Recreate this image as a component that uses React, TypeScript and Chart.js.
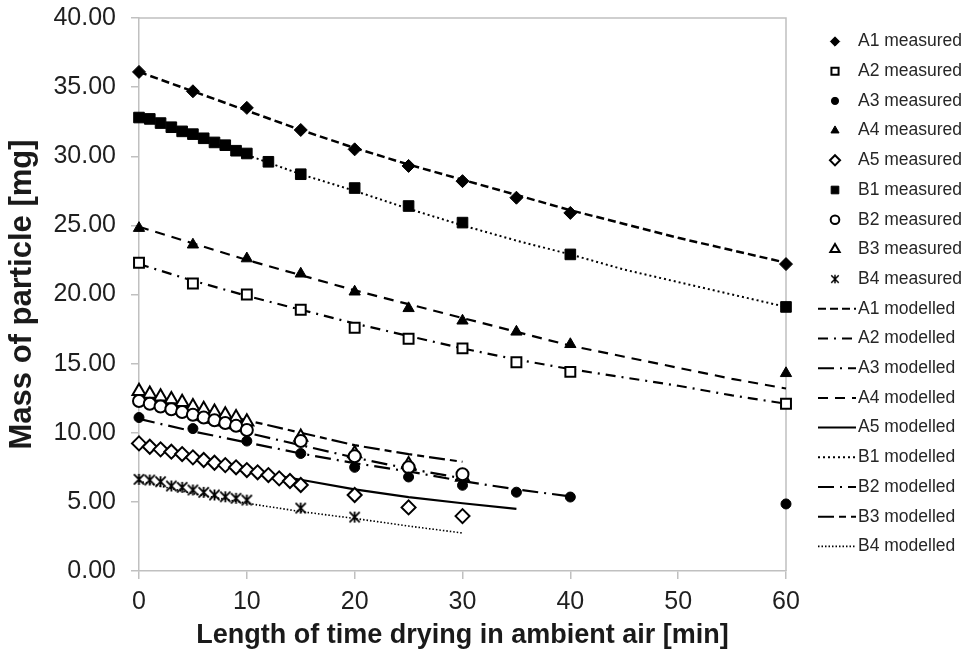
import React, { useEffect, useRef } from 'react';
import { Chart, registerables } from 'chart.js';
import { drawPoint } from 'chart.js/helpers';

Chart.register(...registerables);

const FONT = '"Liberation Sans", Arial, Helvetica, sans-serif';

// ---------------- Data ----------------
const xTickValues = [0, 10, 20, 30, 40, 50, 60];
const yTickValues = [0, 5, 10, 15, 20, 25, 30, 35, 40];

const timeA = [0, 5, 10, 15, 20, 25, 30, 35, 40, 60];
const a1Measured = [36.1, 34.7, 33.5, 31.9, 30.5, 29.3, 28.2, 27.0, 25.9, 22.2];
const a2Measured = [22.3, 20.8, 20.0, 18.9, 17.6, 16.8, 16.1, 15.1, 14.4, 12.1];
const a3Measured = [11.1, 10.3, 9.4, 8.5, 7.5, 6.8, 6.2, 5.7, 5.35, 4.85];
const a4Measured = [24.8, 23.6, 22.6, 21.5, 20.2, 19.0, 18.1, 17.3, 16.4, 14.3];

const timeA5 = [0, 1, 2, 3, 4, 5, 6, 7, 8, 9, 10, 11, 12, 13, 14, 15, 20, 25, 30];
const a5Measured = [9.23, 8.99, 8.8, 8.63, 8.46, 8.22, 8.03, 7.83, 7.66, 7.5, 7.3, 7.14, 6.94, 6.7, 6.51, 6.22, 5.5, 4.6, 3.97];

const timeB1 = [0, 1, 2, 3, 4, 5, 6, 7, 8, 9, 10, 12, 15, 20, 25, 30, 40, 60];
const b1Measured = [32.8, 32.7, 32.4, 32.1, 31.8, 31.6, 31.3, 31.0, 30.8, 30.4, 30.2, 29.6, 28.7, 27.7, 26.4, 25.2, 22.9, 19.1];

const timeB23 = [0, 1, 2, 3, 4, 5, 6, 7, 8, 9, 10, 15, 20, 25, 30];
const b2Measured = [12.3, 12.1, 11.9, 11.7, 11.5, 11.3, 11.1, 10.9, 10.7, 10.5, 10.2, 9.4, 8.3, 7.5, 7.0];
const b3Measured = [13.0, 12.8, 12.6, 12.4, 12.2, 11.9, 11.7, 11.5, 11.3, 11.1, 10.8, 9.7, 8.5, 7.7, 6.8];

const timeB4 = [0, 1, 2, 3, 4, 5, 6, 7, 8, 9, 10, 15, 20];
const b4Measured = [6.63, 6.58, 6.46, 6.15, 6.05, 5.86, 5.69, 5.5, 5.37, 5.26, 5.13, 4.55, 3.9];

const timeModel60 = [0, 5, 10, 15, 20, 25, 30, 35, 40, 45, 50, 55, 60];
const timeModel40 = [0, 5, 10, 15, 20, 25, 30, 35, 40];
const timeModel35 = [0, 5, 10, 15, 20, 25, 30, 35];
const timeModel30 = [0, 5, 10, 15, 20, 25, 30];

const a1Modelled = [36.1, 34.7, 33.3, 31.9, 30.6, 29.4, 28.3, 27.2, 26.1, 25.1, 24.1, 23.2, 22.3];
const a2Modelled = [22.2, 21.0, 19.9, 18.9, 17.9, 17.0, 16.1, 15.3, 14.6, 14.0, 13.4, 12.7, 12.1];
const a3Modelled = [11.0, 10.1, 9.3, 8.5, 7.8, 7.2, 6.5, 5.9, 5.4];
const a4Modelled = [24.9, 23.7, 22.5, 21.4, 20.3, 19.3, 18.3, 17.3, 16.3, 15.5, 14.7, 13.9, 13.2];
const a5Modelled = [9.2, 8.2, 7.3, 6.6, 5.9, 5.35, 4.9, 4.5];
const b1Modelled = [32.9, 31.5, 30.1, 28.7, 27.5, 26.2, 25.0, 23.9, 22.9, 21.8, 20.9, 20.0, 19.1];
const b2Modelled = [12.2, 11.0, 10.0, 9.1, 8.2, 7.4, 6.7];
const b3Modelled = [12.8, 11.8, 10.9, 10.0, 9.1, 8.45, 7.9];
const b4Modelled = [6.5, 5.6, 4.9, 4.3, 3.8, 3.25, 2.75];

// ---------------- Helpers ----------------
const pts = (xs: number[], ys: number[]) => xs.map((x, i) => ({ x, y: ys[i] }));

function makeStarMarker(size: number, lw: number): HTMLCanvasElement {
  const c = document.createElement('canvas');
  c.width = size;
  c.height = size;
  const g = c.getContext('2d')!;
  g.strokeStyle = '#000';
  g.lineWidth = lw;
  const m = lw / 2 + 0.5;
  g.beginPath();
  g.moveTo(m, m);
  g.lineTo(size - m, size - m);
  g.moveTo(size - m, m);
  g.lineTo(m, size - m);
  g.moveTo(size / 2, m - 0.5);
  g.lineTo(size / 2, size - m + 0.5);
  g.stroke();
  return c;
}

export default function App() {
  const canvasRef = useRef<HTMLCanvasElement | null>(null);

  useEffect(() => {
    const canvas = canvasRef.current;
    if (!canvas) return;

    const star = makeStarMarker(13, 1.8);
    const starSmall = makeStarMarker(10, 1.5);

    const measuredStyles = [
      { label: 'A1 measured', data: pts(timeA, a1Measured), style: 'rectRot', r: 6.5, fill: '#000', bw: 1 },
      { label: 'A2 measured', data: pts(timeA, a2Measured), style: 'rect', r: 7, fill: '#fff', bw: 2 },
      { label: 'A3 measured', data: pts(timeA, a3Measured), style: 'circle', r: 5, fill: '#000', bw: 1 },
      { label: 'A4 measured', data: pts(timeA, a4Measured), style: 'triangle', r: 6.5, fill: '#000', bw: 1 },
      { label: 'A5 measured', data: pts(timeA5, a5Measured), style: 'rectRot', r: 7, fill: '#fff', bw: 2 },
      { label: 'B1 measured', data: pts(timeB1, b1Measured), style: 'rect', r: 7.5, fill: '#000', bw: 1 },
      { label: 'B2 measured', data: pts(timeB23, b2Measured), style: 'circle', r: 6, fill: '#fff', bw: 2 },
      { label: 'B3 measured', data: pts(timeB23, b3Measured), style: 'triangle', r: 7.5, fill: '#fff', bw: 2 },
      { label: 'B4 measured', data: pts(timeB4, b4Measured), style: star as any, r: 6.5, fill: '#000', bw: 1 },
    ];

    const modelledStyles = [
      { label: 'A1 modelled', data: pts(timeModel60, a1Modelled), dash: [8, 4], w: 2.5 },
      { label: 'A2 modelled', data: pts(timeModel60, a2Modelled), dash: [10, 6, 2, 6], w: 2.2 },
      { label: 'A3 modelled', data: pts(timeModel40, a3Modelled), dash: [16, 6, 2, 6], w: 2.2 },
      { label: 'A4 modelled', data: pts(timeModel60, a4Modelled), dash: [10, 7], w: 2.2 },
      { label: 'A5 modelled', data: pts(timeModel35, a5Modelled), dash: [], w: 2.2 },
      { label: 'B1 modelled', data: pts(timeModel60, b1Modelled), dash: [2, 3], w: 2 },
      { label: 'B2 modelled', data: pts(timeModel30, b2Modelled), dash: [16, 6, 2, 6], w: 2.2 },
      { label: 'B3 modelled', data: pts(timeModel30, b3Modelled), dash: [16, 5, 7, 5], w: 2.2 },
      { label: 'B4 modelled', data: pts(timeModel30, b4Modelled), dash: [1.5, 2], w: 1.6 },
    ];

    const datasets: any[] = [
      ...measuredStyles.map((m) => ({
        label: m.label,
        data: m.data,
        showLine: false,
        pointStyle: m.style,
        pointRadius: m.r,
        pointBackgroundColor: m.fill,
        pointBorderColor: '#000',
        pointBorderWidth: m.bw,
        clip: false,
      })),
      ...modelledStyles.map((m) => ({
        label: m.label,
        data: m.data,
        showLine: true,
        pointRadius: 0,
        borderColor: '#000',
        borderWidth: m.w,
        borderDash: m.dash,
        fill: false,
        clip: false,
      })),
    ];

    const frameAndLegend = {
      id: 'frameAndLegend',
      beforeDatasetsDraw(chart: any) {
        const { ctx, chartArea } = chart;
        ctx.save();
        ctx.strokeStyle = '#c0c0c0';
        ctx.lineWidth = 1.5;
        ctx.beginPath();
        ctx.moveTo(chartArea.left, chartArea.top);
        ctx.lineTo(chartArea.right, chartArea.top);
        ctx.lineTo(chartArea.right, chartArea.bottom);
        ctx.stroke();
        ctx.restore();
      },
      afterDraw(chart: any) {
        const ctx = chart.ctx as CanvasRenderingContext2D;
        ctx.save();
        const rowY0 = 41.5;
        const rowH = 29.7;
        const markerX = 835;
        const textX = 858;
        ctx.font = `17.5px ${FONT}`;
        ctx.textBaseline = 'middle';
        ctx.textAlign = 'left';
        measuredStyles.forEach((m, i) => {
          const y = rowY0 + i * rowH;
          ctx.fillStyle = m.fill;
          ctx.strokeStyle = '#000';
          ctx.lineWidth = m.fill === '#fff' ? 2 : 1;
          ctx.setLineDash([]);
          const style = m.style === (star as any) ? starSmall : m.style;
          drawPoint(ctx, { pointStyle: style, radius: m.r * 0.72, rotation: 0, borderWidth: ctx.lineWidth } as any, markerX, y);
          ctx.fillStyle = '#262626';
          ctx.fillText(m.label, textX, y);
        });
        modelledStyles.forEach((m, i) => {
          const y = rowY0 + (i + 9) * rowH;
          ctx.strokeStyle = '#000';
          ctx.lineWidth = Math.min(m.w, 2);
          ctx.setLineDash(m.dash);
          ctx.beginPath();
          ctx.moveTo(818, y);
          ctx.lineTo(856, y);
          ctx.stroke();
          ctx.setLineDash([]);
          ctx.fillStyle = '#262626';
          ctx.fillText(m.label, textX, y);
        });
        ctx.restore();
      },
    };

    const axisColor = '#c0c0c0';
    const chart = new Chart(canvas, {
      type: 'scatter',
      data: { datasets },
      options: {
        responsive: false,
        animation: false,
        layout: { padding: { left: 0, top: 18, right: 188, bottom: 0 } },
        plugins: {
          legend: { display: false },
          tooltip: { enabled: false },
        },
        scales: {
          x: {
            type: 'linear',
            min: 0,
            max: 60,
            afterBuildTicks: (s: any) => {
              s.ticks = xTickValues.map((v) => ({ value: v }));
            },
            afterFit: (s: any) => {
              s.height = 86;
              s.paddingLeft = 0;
              s.paddingRight = 0;
            },
            ticks: {
              font: { family: FONT, size: 25 },
              color: '#1f1f1f',
              padding: 8,
              maxRotation: 0,
              autoSkip: false,
              callback: (v: any) => String(v),
            },
            grid: { drawOnChartArea: false, drawTicks: true, tickLength: 8, color: axisColor, lineWidth: 1.5 },
            border: { display: true, color: axisColor, width: 1.5 },
            title: {
              display: true,
              text: 'Length of time drying in ambient air [min]',
              font: { family: FONT, size: 27, weight: 'bold' },
              color: '#1a1a1a',
              padding: { top: 0, bottom: 5 },
            },
          },
          y: {
            type: 'linear',
            min: 0,
            max: 40,
            afterBuildTicks: (s: any) => {
              s.ticks = yTickValues.map((v) => ({ value: v }));
            },
            afterFit: (s: any) => {
              s.width = 139;
              s.paddingTop = 0;
              s.paddingBottom = 0;
            },
            ticks: {
              font: { family: FONT, size: 25 },
              color: '#1f1f1f',
              padding: 15,
              autoSkip: false,
              callback: (v: any) => Number(v).toFixed(2),
            },
            grid: { drawOnChartArea: false, drawTicks: true, tickLength: 8, color: axisColor, lineWidth: 1.5 },
            border: { display: true, color: axisColor, width: 1.5 },
            title: {
              display: true,
              text: 'Mass of particle [mg]',
              font: { family: FONT, size: 31, weight: 'bold' },
              color: '#1a1a1a',
              padding: { top: 4, bottom: 0 },
            },
          },
        },
      },
      plugins: [frameAndLegend],
    } as any);

    return () => {
      chart.destroy();
    };
  }, []);

  return (
    <div style={{ position: 'absolute', left: 0, top: 0, width: 974, height: 657, background: '#fff' }}>
      <canvas ref={canvasRef} width={974} height={657} style={{ width: 974, height: 657, display: 'block' }} />
    </div>
  );
}
